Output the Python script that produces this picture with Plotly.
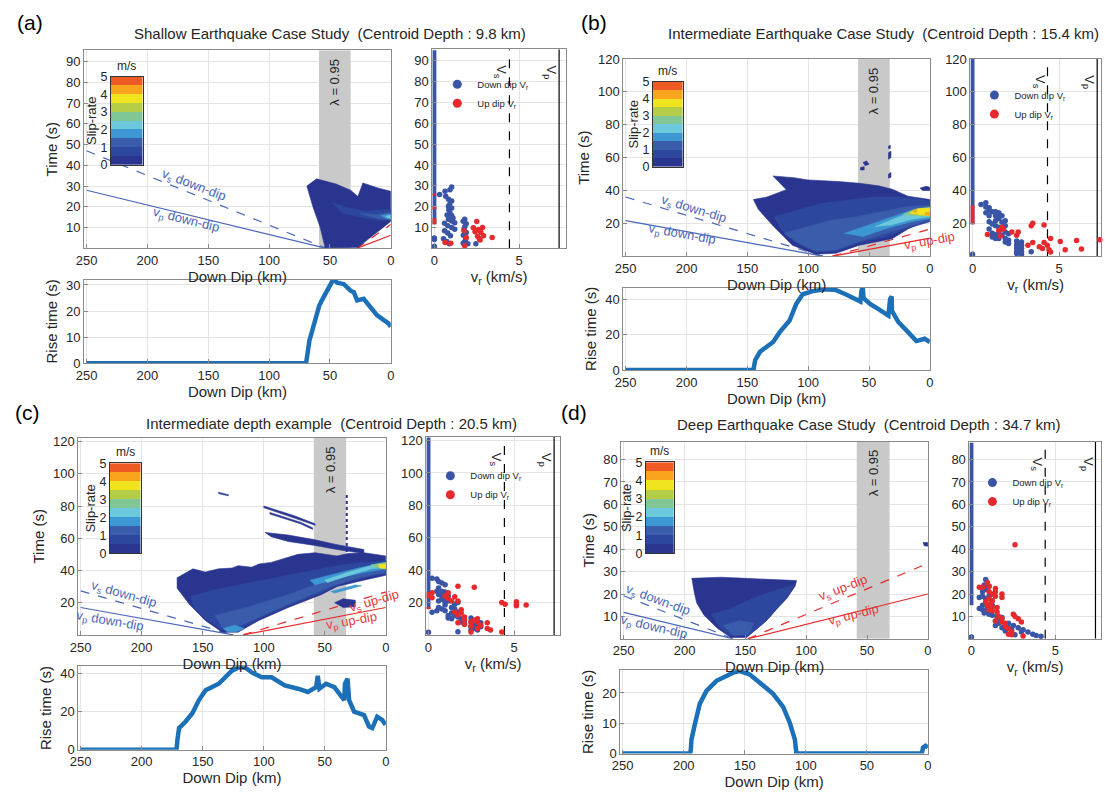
import plotly.graph_objects as go

W, H = 1105, 794
FONT = "Liberation Sans, Arial, sans-serif"

# ------------------------------------------------------------------ data
SLIP_COLORS = ["#2a3590", "#2e479e", "#3a5dab", "#3d97d2", "#6cc9dc",
               "#80c795", "#b4cf47", "#f0e41e", "#f8a41c", "#ee5a24"]
SLIP_BIN = [0.25, 0.75, 1.25, 1.75, 2.25, 2.75, 3.25, 3.75, 4.25, 4.75]
SLIP_TICKS = [0, 1, 2, 3, 4, 5]
DIP_TICKS = [250, 200, 150, 100, 50, 0]
VR_TICKS = [0, 5]

# ---------------- panel (a)
A_TITLE = "Shallow Earthquake Case Study  (Centroid Depth : 9.8 km)"
A_T_TICKS = [10, 20, 30, 40, 50, 60, 70, 80, 90]
A_T_MAX = 95.5
A_RISE_TICKS = [0, 10, 20, 30]
A_RISE_MAX = 32
A_VR_MAX = 7.76
A_VS, A_VP = 4.43, 7.36
A_BAND = [59, 33]
A_VS_DOWN = ([250, 53], [47, 0])
A_VP_DOWN = ([250, 53], [28, 0])
A_VS_UP = ([28, 0], [0, 11.5])
A_VP_UP = ([28, 0], [0, 6.3])
A_SLIP_L0 = [[(69, 30), (61, 33.5), (45, 31), (33, 28), (27, 25), (23, 31.5), (10, 29), (0, 27.5),
              (0, 13), (10, 8.5), (20, 4), (27, 0.5), (40, 0.3), (54, 0.3), (58, 10), (64, 20)]]
A_SLIP_L1 = [[(48, 22), (35, 19.5), (20, 18), (8, 18.5), (0, 19), (0, 13.5), (10, 13.5), (25, 15), (40, 17)]]
A_SLIP_L2 = [[(25, 16.8), (12, 16.3), (0, 17.2), (0, 13.8), (10, 14.3)]]
A_SLIP_L3 = [[(8, 15.8), (0, 16.6), (0, 14), (5, 14.7)]]
A_SLIP_L4 = [[(4, 15.5), (0, 16.1), (0, 14.4), (3, 14.8)]]
A_RISE_DD = [250, 69.6, 66.9, 62.9, 58.8, 54.7, 50.7, 48, 46.6, 44, 38.5, 33.1, 30.4, 27.7, 22.3, 16.9, 11.4, 6, 1.9, 0]
A_RISE_T = [0, 0, 8.6, 15.9, 22.1, 25.8, 29.6, 31.5, 31.9, 30.9, 30.3, 27.8, 27.2, 24.1, 24.7, 21.6, 18.4, 16.6, 15.3, 14]
A_DOWN = [(1.02, 29.4), (0.92, 28.1), (0.63, 27.4), (0.31, 25.8), (0.67, 25.0), (0.83, 23.5), (1.02, 22.7),
          (0.83, 20.2), (1.02, 19.4), (0.92, 17.1), (1.02, 15.8), (0.83, 14.0), (1.02, 13.1), (1.2, 12.3),
          (0.6, 12.0), (0.79, 10.8), (1.02, 10.0), (1.2, 9.2), (0.6, 8.5), (0.79, 7.4), (0.95, 6.1), (0.54, 4.6),
          (0.73, 3.3), (0.88, 2.2), (1.79, 14.0), (1.88, 11.8), (1.75, 9.2), (1.88, 7.6), (1.71, 6.3), (1.79, 3.3),
          (1.98, 2.2), (2.45, 2.2), (0.75, 16.0), (0.85, 18.5), (0.9, 21.0), (1.1, 14.5), (1.7, 13.0), (1.8, 10.5),
          (1.85, 4.5), (1.7, 2.5), (0, 5.0), (0, 4.2), (0, 1.0)]
A_UP = [(0.63, 2.8), (0.97, 2.4), (1.75, 8.4), (1.88, 5.2), (1.79, 1.3), (2.3, 9.9), (2.5, 12.9), (2.4, 8.0),
        (2.74, 7.7), (2.55, 5.8), (2.84, 10.0), (2.65, 4.6), (2.9, 6.0), (3.41, 5.2), (2.7, 4.0), (2.6, 9.0)]
A_VR0_BAR = (11.5, 95)
A_VR0_RED = [(25.3, 26.3), (18.8, 19.8), (11.5, 14.5)]

# ---------------- panel (b)
B_TITLE = "Intermediate Earthquake Case Study  (Centroid Depth : 15.4 km)"
B_T_TICKS = [20, 40, 60, 80, 100, 120]
B_T_MAX = 120
B_RISE_TICKS = [0, 20, 40]
B_RISE_MAX = 47
B_VR_MAX = 7.42
B_VS, B_VP = 4.33, 7.2
B_BAND = [59, 33]
B_VS_DOWN = ([250, 88], [36, 0])
B_VP_DOWN = ([250, 88], [21.7, 0])
B_VS_UP = ([80, 0], [0, 16.5])
B_VP_UP = ([80, 0], [0, 11])
B_SLIP_L0 = [[(145, 34.5), (134, 36), (118, 40.5), (129, 48.8), (112, 47.8), (100, 46.4), (75, 45.4), (58, 44.4),
              (42, 42.8), (31, 40.8), (18, 36.5), (0, 34.5), (0, 22.6), (18, 16.6), (31, 10.6), (58, 6.7), (77, 1.8),
              (94, 1.2), (113, 6.7), (129, 18.6), (141, 28.5)],
             [(8, 41.5), (3, 42.5), (0, 42), (0, 40), (6, 40)],
             [(55, 57), (52, 58), (50, 56), (53, 55)], [(34, 63), (32, 64), (32, 60), (34, 59)],
             [(34, 50), (32, 51), (32, 48), (34, 47.5)], [(57, 54), (54, 54.5), (54, 52.5), (57, 52.5)],
             [(34, 67), (32.5, 67.5), (32.5, 65.5), (34, 65.5)]]
B_SLIP_L1 = [[(128, 24), (110, 28), (90, 32), (70, 34), (45, 36), (25, 36), (10, 35), (0, 33.5), (0, 21), (18, 17),
              (35, 12), (58, 8), (77, 3), (94, 2.5), (110, 8), (122, 16)]]
B_SLIP_L2 = [[(120, 14), (100, 18), (80, 22), (60, 24), (40, 27), (20, 30), (0, 31), (0, 22), (18, 18), (35, 14),
              (58, 9), (77, 4), (93, 3), (108, 8)]]
B_SLIP_L3 = [[(70, 14), (50, 19), (30, 24), (15, 28), (0, 30), (0, 23), (15, 21), (35, 17), (55, 12)]]
B_SLIP_L4 = [[(45, 18), (28, 23), (15, 27), (0, 29.5), (0, 24), (15, 22.5), (32, 19)]]
B_SLIP_L5 = [[(22, 25.5), (12, 28.5), (0, 29.5), (0, 24.5), (12, 24.5)]]
B_SLIP_L6 = [[(18, 26), (10, 29), (0, 29.5), (0, 24.5), (10, 25)]]
B_SLIP_L7 = [[(16, 26.5), (8, 29), (0, 29), (0, 25), (8, 25.3)]]
B_SLIP_L8 = [[(13.5, 28), (11, 28.2), (10.5, 26.8), (13, 26.8)], [(4, 26.5), (0, 26.7), (0, 25), (3.5, 25.2)]]
B_RISE_DD = [250, 145, 143.6, 139.6, 128.8, 123.4, 115.3, 109.9, 104.5, 96.3, 85.5, 77.4, 69.3, 57.1, 56.3, 55.2,
             54.5, 48.9, 42.2, 34.1, 32.7, 31.4, 31.2, 26, 17.9, 11.1, 4.3, 0]
B_RISE_T = [0, 0, 5.6, 10.4, 16, 21.6, 28.2, 37.6, 43.2, 45, 46, 45.6, 43.2, 39.1, 45, 47.3, 41, 37.6, 34.7, 31,
            40.4, 41.9, 33.8, 27.4, 21.6, 16.5, 17.8, 16]
B_DOWN = [(0.49, 31.5), (0.77, 32.5), (0.77, 30), (0.96, 29.5), (0.96, 28), (1.14, 27), (0.77, 26.5), (0.96, 24.6),
          (1.33, 27), (1.33, 24.6), (1.52, 26.5), (1.52, 25.5), (1.7, 24.6), (1.52, 23), (1.33, 21.6), (0.96, 21),
          (1.14, 19.6), (1.33, 18.6), (1.52, 17.6), (1.7, 20.6), (1.89, 21.6), (1.89, 18.6), (1.7, 16.6),
          (1.52, 14.7), (1.33, 13), (1.14, 14), (1.89, 14.7), (1.7, 12.7), (2.08, 13.7), (1.52, 10.7), (1.89, 10.7),
          (2.08, 9.7), (1.33, 10.7), (1.89, 8.7), (2.08, 7.7), (2.55, 9.2), (2.55, 7), (2.55, 5), (2.55, 3),
          (2.55, 1.5), (2.83, 8.7), (2.83, 6.7), (2.83, 4.7), (2.83, 2.7), (2.83, 1.2), (2.64, 4), (3.39, 2.7),
          (0.96, 16.6), (1.14, 11.7), (0, 1.2)]
B_UP = [(0.86, 13.2), (1.7, 17.6), (1.79, 16.6), (1.52, 15.6), (1.6, 12.3), (2.27, 14.7), (2.64, 14.7),
        (2.55, 12.7), (3.48, 20.1), (3.39, 18.6), (4.13, 19), (3.48, 8.3), (3.2, 6.7), (3.86, 5.7), (4.04, 4.7),
        (4.13, 8.3), (4.32, 6.7), (4.51, 10.7), (4.42, 4), (4.51, 2.5), (5.07, 9), (5.35, 4), (6.01, 9.5),
        (6.29, 4.4), (7.35, 10)]
B_VR0_BAR = (19.5, 120)
B_VR0_RED = [(19.5, 31)]

# ---------------- panel (c)
C_TITLE = "Intermediate depth example  (Centroid Depth : 20.5 km)"
C_T_TICKS = [20, 40, 60, 80, 100, 120]
C_T_MAX = 122.4
C_RISE_TICKS = [0, 20, 40]
C_RISE_MAX = 43.5
C_VR_MAX = 7.67
C_VS, C_VP = 4.43, 7.33
C_BAND = [59, 32.5]
C_VS_DOWN = ([250, 125], [27.3, 0])
C_VP_DOWN = ([250, 125], [17, 0])
C_VS_UP = ([117, 0], [0, 26.7])
C_VP_UP = ([117, 0], [0, 17])
C_SLIP_L0 = [[(171, 35.5), (158, 41), (148, 39), (137, 41), (126, 41.5), (121, 43), (110, 42), (104, 44), (94, 45),
              (85, 47), (72, 50), (58, 51), (40, 49), (31, 50.5), (18, 51), (0, 49), (0, 37), (18, 34), (40, 30),
              (53, 25), (80, 17), (104, 9), (121, 1.7), (134, 1.7), (148, 9), (161, 19), (171, 29)],
             [(99, 63.6), (80, 62), (58, 59), (40, 56), (18, 53), (18, 50.5), (40, 53), (58, 55.5), (80, 58), (94, 61)],
             [(100, 80), (75, 74), (58, 69), (58, 68), (75, 72.5), (100, 79)],
             [(95, 76), (70, 70), (60, 66.5), (60, 65.5), (70, 69), (95, 75)],
             [(137, 88.5), (129, 87), (129, 86.3), (137, 87.7)],
             [(42, 20), (35, 22.4), (25, 21.5), (25, 17.5), (35, 17)]]
C_SLIP_L1 = [[(160, 24), (140, 28), (121, 31), (100, 34), (80, 37), (60, 40), (40, 43), (20, 45), (0, 46), (0, 38),
              (20, 35), (40, 31), (53, 26), (80, 18), (104, 10), (121, 3), (134, 3), (148, 10), (157, 17)]]
C_SLIP_L2 = [[(140, 12), (110, 18), (80, 25), (55, 32), (30, 38), (10, 42), (0, 44), (0, 39), (20, 36), (45, 30),
              (80, 19), (110, 9), (125, 4), (133, 4)]]
C_SLIP_L3 = [[(133, 4), (124, 6), (116, 4), (122, 2), (130, 2)],
             [(62, 34), (40, 38), (20, 42), (0, 45), (0, 41), (20, 38.5), (40, 35), (58, 31)],
             [(45, 27), (25, 31), (20, 30.5), (42, 26)]]
C_SLIP_L4 = [[(50, 34), (30, 39), (12, 43), (0, 44.5), (0, 42), (12, 41), (30, 37), (48, 32.5)]]
C_SLIP_L5 = [[(12, 43.5), (0, 45), (0, 41.5), (10, 42)]]
C_SLIP_L7 = [[(6, 43.5), (0, 44), (0, 41), (5, 41.5)]]
C_SLIP_DOTS = ([32, 32], [44, 88])
C_RISE_DD = [250, 171.5, 170.7, 169.4, 164, 158.5, 153.1, 147.7, 136.9, 131.5, 126.1, 120.7, 115.3, 109.8, 101.7,
             93.6, 82.8, 72, 63.9, 57.1, 55.8, 54.4, 49, 42.2, 36.8, 34.1, 33.5, 31.4, 30.1, 26, 17.9, 13.8, 11.1,
             7.1, 3, 0.3]
C_RISE_T = [0, 0, 5.3, 11.3, 14.7, 19, 25.9, 31, 34.4, 37.8, 41.2, 42.9, 42.9, 40.3, 37.8, 37.8, 33.5, 31.8, 30.1,
            32.6, 38.6, 31.8, 34.4, 32.6, 28.4, 25.8, 34.4, 37, 25.8, 19.8, 18.1, 12.1, 11.3, 17.2, 15.5, 13]
C_DOWN = [(0.21, 35), (0.49, 34.5), (0.59, 33), (0.78, 32), (0.97, 31), (0.59, 29), (0.49, 27), (0.78, 27),
          (0.97, 26.5), (0.59, 25), (0.78, 24), (0.97, 23), (1.15, 24), (0.59, 21), (0.78, 22), (0.97, 20),
          (1.15, 21), (0.97, 18.5), (0.59, 17), (0.78, 16), (0.49, 15), (0.21, 14), (1.35, 17), (1.53, 19),
          (1.72, 20), (1.53, 16), (1.72, 14), (1.35, 13.5), (1.53, 12), (1.72, 11), (1.91, 10), (2.1, 9), (1.91, 8),
          (2.1, 7), (2.48, 10.5), (2.67, 9), (2.48, 8), (2.67, 7), (2.86, 6), (2.48, 5), (2.67, 4), (2.86, 3),
          (3.05, 5), (3.05, 7.5), (1.35, 10), (1.15, 12), (0.97, 15), (1.72, 2), (2.86, 4.5), (2.48, 3),
          (1.15, 10.5), (0, 1.6)]
C_UP = [(0.21, 23), (0.21, 26), (0.97, 24), (1.15, 22.5), (1.72, 30), (2.67, 29.5), (1.72, 21), (1.35, 21),
        (1.91, 15.5), (1.91, 13.5), (1.53, 14), (1.72, 12.5), (2.1, 11), (2.1, 9.5), (1.72, 7.5), (2.48, 8),
        (2.86, 10), (2.67, 9), (2.86, 8), (3.05, 6), (2.86, 4), (3.43, 7.5), (3.43, 4), (3.62, 3), (2.48, 1.8),
        (4.28, 1.8), (4.28, 20), (4.47, 19), (5.13, 20.5), (5.13, 19), (5.13, 18), (5.7, 18.5), (1.15, 26),
        (1.53, 23.5), (2.1, 6.5), (2.48, 5.5)]
C_VR0_BAR = (16, 122)
C_VR0_RED = [(22.5, 26.5), (15.8, 17.3)]

# ---------------- panel (d)
D_TITLE = "Deep Earthquake Case Study  (Centroid Depth : 34.7 km)"
D_T_TICKS = [10, 20, 30, 40, 50, 60, 70, 80]
D_T_MAX = 88
D_RISE_TICKS = [0, 10, 20]
D_RISE_MAX = 27.5
D_VR_MAX = 7.73
D_VS, D_VP = 4.4, 7.4
D_BAND = [58.5, 31.5]
D_VS_DOWN = ([250, 160], [19.2, 0])
D_VP_DOWN = ([250, 160], [11.8, 0])
D_VS_UP = ([148, 0], [0, 33.7])
D_VP_UP = ([148, 0], [0, 20])
D_SLIP_L0 = [[(194, 27), (180, 27.3), (170, 27.5), (150, 27), (130, 26.5), (108, 26), (109, 23.6), (116, 18),
              (124, 13.4), (132, 8.5), (140, 4.7), (149, 0.6), (162, 0.6), (173, 4.7), (184, 10.5), (190, 16),
              (192, 20.7)],
             [(4, 43), (0, 43), (0, 41.3), (3, 41.5)]]
D_SLIP_L1 = [[(178, 11), (165, 13), (150, 16.5), (135, 20), (120, 22.5), (110, 24), (114, 20), (124, 13.4),
              (132, 8.5), (140, 4.7), (148, 1.5), (163, 1.5), (172, 5.5)]]
D_SLIP_L2 = [[(168, 6), (155, 8), (143, 7), (147, 2), (160, 1.5)]]
D_RISE_DD = [250, 194.8, 194.2, 193.7, 191, 186.9, 181.4, 173.2, 165, 159.6, 154.1, 145.9, 137.7, 126.8, 118.6,
             113.1, 109, 107.7, 5, 4, 2, 0]
D_RISE_T = [0, 0, 1.4, 4.6, 9.5, 16.4, 20.7, 24, 25.6, 26.7, 27.2, 26.1, 23.4, 19.7, 15.4, 10.1, 4.7, 0, 0, 2,
            2.6, 2]
D_DOWN = [(0.85, 26.5), (0.95, 25), (0.76, 24), (1.05, 23.5), (0.85, 22), (0.66, 21), (0.47, 18.5), (0.66, 19),
          (0.85, 18), (1.05, 19), (1.24, 17), (0.85, 16), (0.66, 15), (0.47, 13.5), (0.66, 13), (0.95, 14),
          (0.85, 12), (0.76, 11.5), (1.05, 11), (1.24, 10.5), (1.53, 10), (1.43, 8), (1.63, 9), (1.82, 9.5),
          (1.63, 7), (1.43, 6), (1.82, 5), (2.02, 6), (2.21, 7), (2.21, 5), (2.4, 4), (2.5, 6), (2.02, 3.5),
          (2.79, 5), (2.98, 3), (3.08, 4), (3.37, 3), (3.66, 2), (3.86, 1.5), (4.15, 1.2), (2.6, 1.8), (1.24, 15),
          (0, 0.8)]
D_UP = [(0.47, 23), (0.66, 23), (0.95, 25), (1.05, 23.5), (1.05, 21), (1.24, 20), (1.43, 22.5), (1.43, 21),
        (1.82, 20), (1.82, 18.5), (1.43, 19), (1.05, 18), (1.24, 17), (0.85, 16.5), (0.95, 15), (1.14, 15.5),
        (1.24, 14), (1.05, 13), (1.24, 12.5), (1.53, 14), (1.53, 12), (1.63, 10), (1.82, 9), (1.43, 8),
        (1.82, 7.5), (2.02, 7), (2.21, 4.5), (2.4, 3), (2.21, 2), (2.5, 11), (2.6, 10), (2.79, 9), (2.98, 7.5),
        (3.08, 1.3), (2.4, 1.8), (2.6, 42), (2.02, 5.5)]
D_VR0_BAR = (15, 87.5)
D_VR0_RED = []

# ------------------------------------------------------------------ styles
DOWN_BLUE = "#3a55a6"
UP_RED = "#e52a2d"
RISE_BLUE = "#1b70b8"
TEXT_BLUE = "#4a68b8"
TEXT_RED = "#e8383a"
BAND_GRAY = "#c9c9c9"
AX_LINE = "#8a8a8a"
GRID = "#e4e4e4"
TXT = "#262626"

PANELS = [
    dict(key="a", title=A_TITLE, tt=A_T_TICKS, tmax=A_T_MAX, rt=A_RISE_TICKS, rmax=A_RISE_MAX, vrmax=A_VR_MAX,
         vs=A_VS, vp=A_VP, band=A_BAND, lines=[A_VS_DOWN, A_VP_DOWN, A_VS_UP, A_VP_UP],
         slip=[A_SLIP_L0, A_SLIP_L1, A_SLIP_L2, A_SLIP_L3, A_SLIP_L4], dots=None,
         rise=(A_RISE_DD, A_RISE_T), down=A_DOWN, up=A_UP, bar=A_VR0_BAR, red=A_VR0_RED),
    dict(key="b", title=B_TITLE, tt=B_T_TICKS, tmax=B_T_MAX, rt=B_RISE_TICKS, rmax=B_RISE_MAX, vrmax=B_VR_MAX,
         vs=B_VS, vp=B_VP, band=B_BAND, lines=[B_VS_DOWN, B_VP_DOWN, B_VS_UP, B_VP_UP],
         slip=[B_SLIP_L0, B_SLIP_L1, B_SLIP_L2, B_SLIP_L3, B_SLIP_L4, B_SLIP_L5, B_SLIP_L6, B_SLIP_L7, B_SLIP_L8],
         dots=None, rise=(B_RISE_DD, B_RISE_T), down=B_DOWN, up=B_UP, bar=B_VR0_BAR, red=B_VR0_RED),
    dict(key="c", title=C_TITLE, tt=C_T_TICKS, tmax=C_T_MAX, rt=C_RISE_TICKS, rmax=C_RISE_MAX, vrmax=C_VR_MAX,
         vs=C_VS, vp=C_VP, band=C_BAND, lines=[C_VS_DOWN, C_VP_DOWN, C_VS_UP, C_VP_UP],
         slip=[C_SLIP_L0, C_SLIP_L1, C_SLIP_L2, C_SLIP_L3, C_SLIP_L4, C_SLIP_L5, [], C_SLIP_L7], dots=C_SLIP_DOTS,
         rise=(C_RISE_DD, C_RISE_T), down=C_DOWN, up=C_UP, bar=C_VR0_BAR, red=C_VR0_RED),
    dict(key="d", title=D_TITLE, tt=D_T_TICKS, tmax=D_T_MAX, rt=D_RISE_TICKS, rmax=D_RISE_MAX, vrmax=D_VR_MAX,
         vs=D_VS, vp=D_VP, band=D_BAND, lines=[D_VS_DOWN, D_VP_DOWN, D_VS_UP, D_VP_UP],
         slip=[D_SLIP_L0, D_SLIP_L1, D_SLIP_L2], dots=None,
         rise=(D_RISE_DD, D_RISE_T), down=D_DOWN, up=D_UP, bar=D_VR0_BAR, red=D_VR0_RED),
]

# pixel boxes (left, right, top, bottom)
BOX = {
    "a": dict(main=(77, 387, 44, 246), sc=(429, 564, 43, 246), rise=(77, 387, 278, 363), cb=(104, 136, 71, 161)),
    "b": dict(main=(622, 932, 53, 254), sc=(973, 1105, 53, 254), rise=(622, 932, 286, 370), cb=(652, 682, 76, 163)),
    "c": dict(main=(71, 382, 439, 640), sc=(423, 558, 438, 640), rise=(71, 382, 672, 757), cb=(103, 134, 465, 557)),
    "d": dict(main=(620, 930, 443, 644), sc=(972, 1105, 443, 644), rise=(619, 930, 676, 761), cb=(645, 673, 464, 557)),
}
TITLE_POS = {"a": (326, 27), "b": (885, 27), "c": (327, 425), "d": (870, 426)}
LETTER_POS = {"a": (7, 16), "b": (577, 16), "c": (5, 413), "d": (557, 413)}
LEGEND_POS = {"a": (434, 64), "b": (977, 75), "c": (427, 463), "d": (975, 470)}
# line label placement: (text, dd, t, angle, colour)
LINE_LABELS = {
    "a": [("v<sub>s</sub> down-dip", 162, 30.3, 21, TEXT_BLUE), ("v<sub>p</sub> down-dip", 168, 13.3, 14, TEXT_BLUE)],
    "b": [("v<sub>s</sub> down-dip", 194, 28.3, 17, TEXT_BLUE), ("v<sub>p</sub> down-dip", 204, 12.9, 10, TEXT_BLUE),
          ("v<sub>p</sub> up-dip", 0, 8.7, -10, TEXT_RED)],
    "c": [("v<sub>s</sub> down-dip", 215, 24.8, 16, TEXT_BLUE), ("v<sub>p</sub> down-dip", 226, 8.5, 10, TEXT_BLUE),
          ("v<sub>s</sub> up-dip", 9.7, 20.6, -16, TEXT_RED), ("v<sub>p</sub> up-dip", 28.4, 8.5, -10, TEXT_RED)],
    "d": [("v<sub>s</sub> down-dip", 222, 17, 20, TEXT_BLUE), ("v<sub>p</sub> down-dip", 225, 5.2, 13, TEXT_BLUE),
          ("v<sub>s</sub> up-dip", 69.7, 22.3, -21, TEXT_RED), ("v<sub>p</sub> up-dip", 61.5, 10.5, -14, TEXT_RED)],
}


def dom(box):
    l, r, t, b = box
    return [l / W, min(r / W, 1.0)], [1 - b / H, 1 - t / H]


def aid(n, letter):
    return letter if n == 1 else f"{letter}{n}"


def akey(n, letter):
    return f"{letter}axis" if n == 1 else f"{letter}axis{n}"


def base_axis(**kw):
    d = dict(showline=True, linecolor=AX_LINE, linewidth=1, mirror=True, ticks="inside", ticklen=4,
             tickwidth=1, tickcolor=AX_LINE, showgrid=True, gridcolor=GRID, gridwidth=1, zeroline=False,
             tickfont=dict(size=13, color=TXT, family=FONT))
    d.update(kw)
    return d


def ttl(text, standoff=2, size=15):
    return dict(text=text, standoff=standoff, font=dict(size=size, color=TXT, family=FONT))


def poly_xy(polys):
    xs, ys = [], []
    for poly in polys:
        xs += [p[0] for p in poly] + [poly[0][0], None]
        ys += [p[1] for p in poly] + [poly[0][1], None]
    return xs, ys


fig = go.Figure()
layout = dict(width=W, height=H, margin=dict(l=0, r=0, t=0, b=0), paper_bgcolor="white", plot_bgcolor="white",
              font=dict(family=FONT, color=TXT), showlegend=True)
annotations = []

cscale = []
for i, c in enumerate(SLIP_COLORS):
    cscale += [[i / 10, c], [(i + 1) / 10, c]]

for pi, P in enumerate(PANELS):
    k = P["key"]
    nm, ns, nr, nc = 3 * pi + 1, 3 * pi + 2, 3 * pi + 3, 13 + pi
    xm, ym = aid(nm, "x"), aid(nm, "y")
    xs_, ys_ = aid(ns, "x"), aid(ns, "y")
    xr, yr = aid(nr, "x"), aid(nr, "y")
    xc, yc = aid(nc, "x"), aid(nc, "y")
    legname = "legend" if pi == 0 else f"legend{pi + 1}"

    # ---- main axes
    dx, dy = dom(BOX[k]["main"])
    layout[akey(nm, "x")] = base_axis(domain=dx, range=[252, 0], tickvals=DIP_TICKS, anchor=ym,
                                      title=ttl("Down Dip (km)", 1))
    layout[akey(nm, "y")] = base_axis(domain=dy, range=[0, P["tmax"]], tickvals=P["tt"], anchor=xm,
                                      title=ttl("Time (s)", 4))
    b0, b1 = P["band"]
    fig.add_trace(go.Scatter(x=[b0, b1, b1, b0, b0], y=[0, 0, P["tmax"], P["tmax"], 0], mode="lines",
                             fill="toself", fillcolor=BAND_GRAY, line=dict(width=0, color=BAND_GRAY),
                             xaxis=xm, yaxis=ym, showlegend=False, hoverinfo="skip"))
    annotations.append(dict(text="λ = 0.95", xref=xm, yref=f"{ym} domain",
                            x=(b0 + b1) / 2, y=0.84, textangle=-90, showarrow=False,
                            font=dict(size=13, color=TXT, family=FONT), xanchor="center", yanchor="middle"))
    styles = [(TEXT_BLUE, "dash"), (TEXT_BLUE, "solid"), (UP_RED, "dash"), (UP_RED, "solid")]
    for (lx, ly), (col, dash) in zip(P["lines"], styles):
        fig.add_trace(go.Scatter(x=lx, y=ly, mode="lines", line=dict(color=col, width=1.2, dash=dash),
                                 xaxis=xm, yaxis=ym, showlegend=False, hoverinfo="skip"))
    for lev, polys in enumerate(P["slip"]):
        if not polys:
            continue
        px, py = poly_xy(polys)
        fig.add_trace(go.Scatter(x=px, y=py, mode="lines", fill="toself", fillcolor=SLIP_COLORS[lev],
                                 line=dict(width=0.6, color=SLIP_COLORS[lev]), xaxis=xm, yaxis=ym,
                                 showlegend=False, hoverinfo="skip"))
    if P["dots"] is not None:
        fig.add_trace(go.Scatter(x=P["dots"][0], y=P["dots"][1], mode="lines",
                                 line=dict(color=SLIP_COLORS[0], width=2, dash="dot"), xaxis=xm, yaxis=ym,
                                 showlegend=False, hoverinfo="skip"))
    for text, lx, ly, ang, col in LINE_LABELS[k]:
        annotations.append(dict(text=text, xref=xm, yref=ym, x=lx, y=ly, textangle=ang, showarrow=False,
                                font=dict(size=13, color=col, family=FONT), xanchor="center", yanchor="middle"))

    # ---- vr scatter axes
    dx, dy = dom(BOX[k]["sc"])
    layout[akey(ns, "x")] = base_axis(domain=dx, range=[-0.12, P["vrmax"]], tickvals=VR_TICKS, anchor=ys_,
                                      title=ttl("v<sub>r</sub> (km/s)", 1))
    layout[akey(ns, "y")] = base_axis(domain=dy, range=[0, P["tmax"]], tickvals=P["tt"], anchor=xs_)
    fig.add_trace(go.Scatter(x=[P["vs"], P["vs"]], y=[0, P["tmax"]], mode="lines",
                             line=dict(color="black", width=1.2, dash="dash"), xaxis=xs_, yaxis=ys_,
                             showlegend=False, hoverinfo="skip"))
    fig.add_trace(go.Scatter(x=[P["vp"], P["vp"]], y=[0, P["tmax"]], mode="lines",
                             line=dict(color="black", width=1.2), xaxis=xs_, yaxis=ys_,
                             showlegend=False, hoverinfo="skip"))
    annotations.append(dict(text="V<sub>s</sub>", xref=xs_, yref=f"{ys_} domain", x=P["vs"] - 0.5, y=0.93,
                            textangle=90, showarrow=False, font=dict(size=13, color=TXT, family=FONT)))
    annotations.append(dict(text="V<sub>p</sub>", xref=xs_, yref=f"{ys_} domain", x=P["vp"] - 0.5, y=0.93,
                            textangle=90, showarrow=False, font=dict(size=13, color=TXT, family=FONT)))
    fig.add_trace(go.Scatter(x=[0, 0], y=list(P["bar"]), mode="lines", line=dict(color=DOWN_BLUE, width=4),
                             xaxis=xs_, yaxis=ys_, showlegend=False, hoverinfo="skip"))
    for (t0, t1) in P["red"]:
        fig.add_trace(go.Scatter(x=[0, 0], y=[t0, t1], mode="lines", line=dict(color=UP_RED, width=4),
                                 xaxis=xs_, yaxis=ys_, showlegend=False, hoverinfo="skip"))
    fig.add_trace(go.Scatter(x=[p[0] for p in P["down"]], y=[p[1] for p in P["down"]], mode="markers",
                             marker=dict(color=DOWN_BLUE, size=5.5), xaxis=xs_, yaxis=ys_, showlegend=False,
                             cliponaxis=False, hoverinfo="skip"))
    fig.add_trace(go.Scatter(x=[p[0] for p in P["up"]], y=[p[1] for p in P["up"]], mode="markers",
                             marker=dict(color=UP_RED, size=5.5), xaxis=xs_, yaxis=ys_, showlegend=False,
                             cliponaxis=False, hoverinfo="skip"))
    fig.add_trace(go.Scatter(x=[None], y=[None], mode="markers", marker=dict(color=DOWN_BLUE, size=9),
                             name="Down dip V<sub>r</sub>", xaxis=xs_, yaxis=ys_, legend=legname))
    fig.add_trace(go.Scatter(x=[None], y=[None], mode="markers", marker=dict(color=UP_RED, size=9),
                             name="Up dip V<sub>r</sub>", xaxis=xs_, yaxis=ys_, legend=legname))
    lx, ly = LEGEND_POS[k]
    layout[legname] = dict(x=lx / W, y=1 - ly / H, xanchor="left", yanchor="top", bgcolor="rgba(0,0,0,0)",
                           borderwidth=0, itemwidth=30, font=dict(size=9.5, color=TXT, family=FONT),
                           tracegroupgap=0)

    # ---- rise time axes
    dx, dy = dom(BOX[k]["rise"])
    layout[akey(nr, "x")] = base_axis(domain=dx, range=[252, 0], tickvals=DIP_TICKS, anchor=yr,
                                      title=ttl("Down Dip (km)", 1))
    layout[akey(nr, "y")] = base_axis(domain=dy, range=[0, P["rmax"]], tickvals=P["rt"], anchor=xr,
                                      title=ttl("Rise time (s)", 4))
    fig.add_trace(go.Scatter(x=P["rise"][0], y=P["rise"][1], mode="lines",
                             line=dict(color=RISE_BLUE, width=4.5), xaxis=xr, yaxis=yr, showlegend=False,
                             hoverinfo="skip"))

    # ---- slip-rate colour bar inset
    dx, dy = dom(BOX[k]["cb"])
    layout[akey(nc, "x")] = dict(domain=dx, range=[-0.5, 0.5], anchor=yc, showticklabels=False, ticks="",
                                 showgrid=False, zeroline=False, showline=True, mirror=True, linecolor="#333333",
                                 linewidth=1)
    layout[akey(nc, "y")] = dict(domain=dy, range=[0, 5], anchor=xc, tickvals=SLIP_TICKS, ticks="",
                                 showgrid=False, zeroline=False, showline=True, mirror=True, linecolor="#333333",
                                 linewidth=1, tickfont=dict(size=12.5, color=TXT, family=FONT),
                                 title=ttl("Slip-rate", 0, 13))
    fig.add_trace(go.Heatmap(z=[[v] for v in SLIP_BIN], x=[0], y=SLIP_BIN, colorscale=cscale, zmin=0, zmax=5,
                             showscale=False, xaxis=xc, yaxis=yc, hoverinfo="skip"))
    annotations.append(dict(text="m/s", xref="paper", yref="paper", x=(dx[0] + dx[1]) / 2, y=dy[1],
                            xanchor="center", yanchor="bottom", yshift=2, showarrow=False,
                            font=dict(size=12, color=TXT, family=FONT)))

    # ---- titles
    tx, ty = TITLE_POS[k]
    annotations.append(dict(text=P["title"], xref="paper", yref="paper", x=tx / W, y=1 - ty / H,
                            xanchor="center", yanchor="middle", showarrow=False,
                            font=dict(size=15, color=TXT, family=FONT)))
    lx, ly = LETTER_POS[k]
    annotations.append(dict(text=f"({k})", xref="paper", yref="paper", x=lx / W, y=1 - ly / H,
                            xanchor="left", yanchor="middle", showarrow=False,
                            font=dict(size=21, color="black", family=FONT)))

layout["annotations"] = annotations
fig.update_layout(**layout)

fig.write_html("out.html", config={"displayModeBar": False},
               post_script="document.body.style.margin='0';document.body.style.overflow='hidden';")
